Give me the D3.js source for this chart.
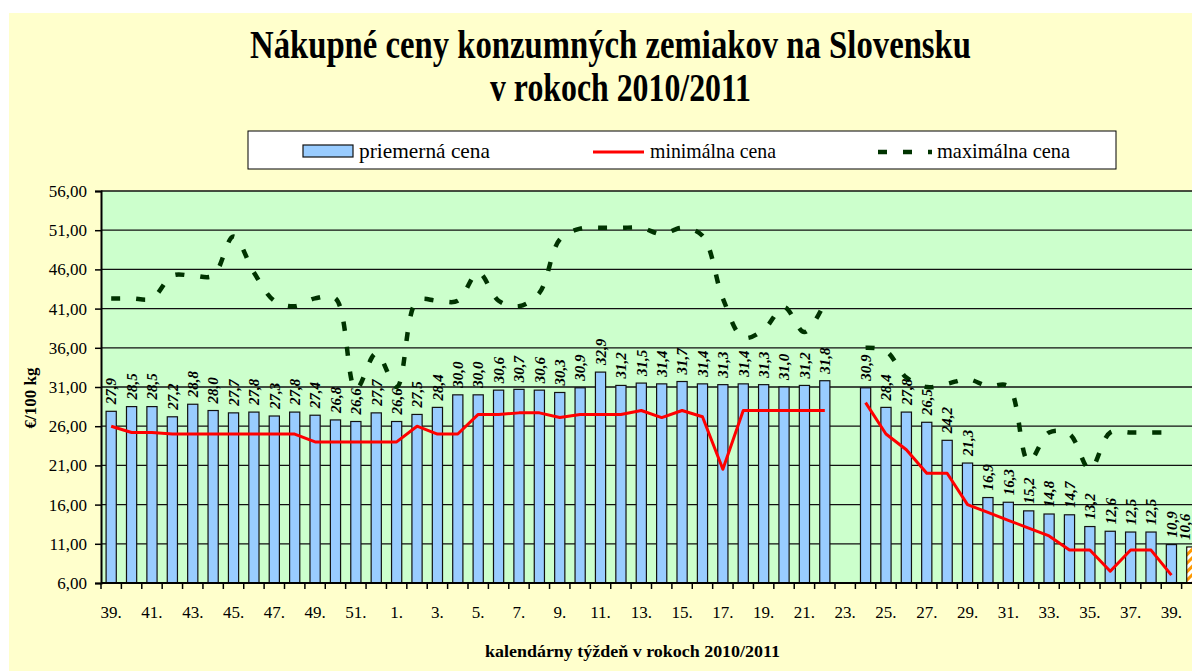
<!DOCTYPE html>
<html>
<head>
<meta charset="utf-8">
<script src="https://cdn.jsdelivr.net/npm/d3@7"></script>
<style>
  body { margin: 0; background: #fff; }
  svg { display: block; font-family: "Liberation Serif", "Times New Roman", serif; }
</style>
</head>
<body>
<div id="chart"></div>
<script>
// calendar weeks: 2010 (39-52), then 2011 (1-40)
var weeks = [39, 40, 41, 42, 43, 44, 45, 46, 47, 48, 49, 50, 51, 52,
  1, 2, 3, 4, 5, 6, 7, 8, 9, 10, 11, 12, 13, 14, 15, 16, 17, 18, 19, 20, 21, 22, 23,
  24, 25, 26, 27, 28, 29, 30, 31, 32, 33, 34, 35, 36, 37, 38, 39, 40];

// priemerna cena (bars)
var avgPrice = [27.9, 28.5, 28.5, 27.2, 28.8, 28.0, 27.7, 27.8, 27.3, 27.8, 27.4, 26.8, 26.6, 27.7,
  26.6, 27.5, 28.4, 30.0, 30.0, 30.6, 30.7, 30.6, 30.3, 30.9, 32.9, 31.2, 31.5, 31.4, 31.7, 31.4,
  31.3, 31.4, 31.3, 31.0, 31.2, 31.8, null,
  30.9, 28.4, 27.8, 26.5, 24.2, 21.3, 16.9, 16.3, 15.2, 14.8, 14.7, 13.2, 12.6, 12.5, 12.5, 10.9, 10.6];

// minimalna cena (red line)
var minPrice = [26.0, 25.2, 25.2, 25.0, 25.0, 25.0, 25.0, 25.0, 25.0, 25.0, 24.0, 24.0, 24.0, 24.0,
  24.0, 26.0, 25.0, 25.0, 27.5, 27.5, 27.7, 27.7, 27.1, 27.5, 27.5, 27.5, 28.0, 27.1, 28.0, 27.2,
  20.5, 28.0, 28.0, 28.0, 28.0, 28.0, null,
  29.0, 25.0, 23.0, 20.0, 20.0, 16.0, 15.0, 14.0, 13.0, 12.0, 10.2, 10.2, 7.5, 10.2, 10.2, 7.0, null];

// maximalna cena (dashed green line)
var maxPrice = [42.3, 42.3, 42.3, 45.2, 45.2, 45.2, 50.2, 45.6, 42.0, 41.3, 42.3, 42.3, 30.7, 35.3,
  31.0, 42.0, 42.0, 42.0, 45.6, 42.0, 41.3, 43.0, 49.8, 51.2, 51.3, 51.3, 51.3, 50.5, 51.3, 50.3,
  42.3, 37.3, 38.3, 41.2, 38.0, 41.8, null,
  36.0, 35.6, 32.2, 31.0, 31.4, 32.0, 31.1, 31.1, 21.5, 25.2, 25.0, 20.5, 25.2, 25.2, 25.2, 25.2, null];

var yTicks = [6, 11, 16, 21, 26, 31, 36, 41, 46, 51, 56];

var seriesNames = ["priemerná cena", "minimálna cena", "maximálna cena"];

//SVG dimensions
var svgWidth = 1192;
var svgHeight = 671;

// plot area (runs a bit past the right edge, like the original)
var plot = { left: 101, top: 191, right: 1202, bottom: 583 };

var svg = d3.select("#chart")
  .append("svg")
  .attr("width", svgWidth)
  .attr("height", svgHeight);

// hatch pattern for the last (orange) bar
var defs = svg.append("defs");
var hatch = defs.append("pattern")
  .attr("id", "hatch")
  .attr("patternUnits", "userSpaceOnUse")
  .attr("width", 6)
  .attr("height", 6)
  .attr("patternTransform", "rotate(45)");
hatch.append("rect").attr("width", 6).attr("height", 6).attr("fill", "#fff");
hatch.append("rect").attr("width", 3).attr("height", 6).attr("fill", "#FF9900");

// chart background
svg.append("rect")
  .attr("x", 9)
  .attr("y", 13)
  .attr("width", svgWidth)
  .attr("height", svgHeight)
  .attr("fill", "#FFFFCC");

// title
var title = svg.append("g")
  .attr("font-weight", "bold")
  .attr("font-size", "39px")
  .attr("fill", "#000");
title.append("text")
  .attr("x", 250)
  .attr("y", 58)
  .attr("textLength", 721)
  .attr("lengthAdjust", "spacingAndGlyphs")
  .text("Nákupné ceny konzumných zemiakov na Slovensku");
title.append("text")
  .attr("x", 490)
  .attr("y", 101)
  .attr("textLength", 261)
  .attr("lengthAdjust", "spacingAndGlyphs")
  .text("v rokoch 2010/2011");

// scales
var xScale = d3.scaleBand()
  .domain(d3.range(weeks.length))
  .range([plot.left, plot.right])
  .paddingInner(0.5)
  .paddingOuter(0.25);

var yScale = d3.scaleLinear()
  .domain([6, 56])
  .range([plot.bottom, plot.top]);

var cx = i => xScale(i) + xScale.bandwidth() / 2;

// plot area
svg.append("rect")
  .attr("x", plot.left)
  .attr("y", plot.top)
  .attr("width", plot.right - plot.left)
  .attr("height", plot.bottom - plot.top)
  .attr("fill", "#CCFFCC");

// horizontal gridlines
svg.append("g")
  .selectAll("line")
  .data(yTicks.filter(t => t > 6))
  .enter()
  .append("line")
  .attr("x1", plot.left)
  .attr("x2", plot.right)
  .attr("y1", d => yScale(d))
  .attr("y2", d => yScale(d))
  .attr("stroke", "#111")
  .attr("stroke-width", 1.3);

// y axis
var fmt = d => d3.format(".2f")(d).replace(".", ",");
var yAxis = svg.append("g")
  .attr("transform", `translate(${plot.left}, 0)`)
  .call(d3.axisLeft(yScale).tickValues(yTicks).tickFormat(fmt).tickSize(6).tickPadding(8));
yAxis.select(".domain").attr("stroke", "#000").attr("stroke-width", 2);
yAxis.selectAll(".tick line").attr("stroke", "#000").attr("stroke-width", 1.5);
yAxis.selectAll("text")
  .attr("font-family", "Liberation Serif, serif")
  .attr("font-size", "17px")
  .attr("fill", "#000");

// bars
svg.append("g")
  .selectAll("rect")
  .data(avgPrice.map((v, i) => ({ v: v, i: i })).filter(d => d.v != null))
  .enter()
  .append("rect")
  .attr("x", d => xScale(d.i))
  .attr("y", d => yScale(d.v))
  .attr("width", xScale.bandwidth())
  .attr("height", d => plot.bottom - yScale(d.v))
  .attr("fill", d => d.i === weeks.length - 1 ? "url(#hatch)" : "#99CCFF")
  .attr("stroke", "#111")
  .attr("stroke-width", 1.2);

// minimalna cena line
var minLine = d3.line()
  .defined(d => d != null)
  .x((d, i) => cx(i))
  .y(d => yScale(d));

svg.append("path")
  .datum(minPrice)
  .attr("d", minLine)
  .attr("fill", "none")
  .attr("stroke", "#FF0000")
  .attr("stroke-width", 3)
  .attr("stroke-linejoin", "round");

// maximalna cena line (smoothed, dashed)
var maxLine = d3.line()
  .defined(d => d != null)
  .x((d, i) => cx(i))
  .y(d => yScale(d))
  .curve(d3.curveCatmullRom.alpha(0.5));

svg.append("path")
  .datum(maxPrice)
  .attr("d", maxLine)
  .attr("fill", "none")
  .attr("stroke", "#003300")
  .attr("stroke-width", 4.5)
  .attr("stroke-dasharray", "9,16");

// x axis line and tick marks at category boundaries
svg.append("line")
  .attr("x1", plot.left)
  .attr("x2", plot.right)
  .attr("y1", plot.bottom)
  .attr("y2", plot.bottom)
  .attr("stroke", "#000")
  .attr("stroke-width", 2);

svg.append("g")
  .selectAll("line")
  .data(d3.range(weeks.length + 1))
  .enter()
  .append("line")
  .attr("x1", i => plot.left + i * xScale.step())
  .attr("x2", i => plot.left + i * xScale.step())
  .attr("y1", plot.bottom)
  .attr("y2", plot.bottom + 6)
  .attr("stroke", "#000")
  .attr("stroke-width", 1.5);

// x labels, every second week
svg.append("g")
  .selectAll("text")
  .data(d3.range(0, weeks.length, 2))
  .enter()
  .append("text")
  .attr("x", i => cx(i))
  .attr("y", 618)
  .attr("text-anchor", "middle")
  .attr("font-size", "17px")
  .attr("fill", "#000")
  .text(i => weeks[i] + ".");

// data labels above bars (last one nudged left so it stays inside the page)
svg.append("g")
  .selectAll("text")
  .data(avgPrice.map((v, i) => ({ v: v, i: i })).filter(d => d.v != null))
  .enter()
  .append("text")
  .attr("transform", d => {
    var lx = d.i === weeks.length - 1 ? cx(d.i) - 7 : cx(d.i);
    return `translate(${lx}, ${yScale(d.v) - 7}) rotate(-90)`;
  })
  .attr("dy", "0.35em")
  .attr("font-size", "15px")
  .attr("font-weight", "bold")
  .attr("font-style", "italic")
  .attr("fill", "#000")
  .text(d => d3.format(".1f")(d.v).replace(".", ","));

// axis titles
svg.append("text")
  .attr("transform", "translate(36, 398) rotate(-90)")
  .attr("text-anchor", "middle")
  .attr("font-size", "17px")
  .attr("font-weight", "bold")
  .text("€/100 kg");

svg.append("text")
  .attr("x", 485)
  .attr("y", 657)
  .attr("textLength", 295)
  .attr("lengthAdjust", "spacingAndGlyphs")
  .attr("font-size", "17px")
  .attr("font-weight", "bold")
  .text("kalendárny týždeň v rokoch 2010/2011");

// legend
var legend = svg.append("g");
legend.append("rect")
  .attr("x", 248)
  .attr("y", 131)
  .attr("width", 868)
  .attr("height", 38)
  .attr("fill", "#fff")
  .attr("stroke", "#000")
  .attr("stroke-width", 1);

legend.append("rect")
  .attr("x", 303)
  .attr("y", 145)
  .attr("width", 50)
  .attr("height", 12)
  .attr("fill", "#99CCFF")
  .attr("stroke", "#111")
  .attr("stroke-width", 1.2);

legend.append("line")
  .attr("x1", 593).attr("x2", 644)
  .attr("y1", 152).attr("y2", 152)
  .attr("stroke", "#FF0000")
  .attr("stroke-width", 3);

legend.append("line")
  .attr("x1", 878).attr("x2", 932)
  .attr("y1", 152).attr("y2", 152)
  .attr("stroke", "#003300")
  .attr("stroke-width", 4.5)
  .attr("stroke-dasharray", "9,16");

var legendText = [
  { x: 359, w: 131 },
  { x: 650, w: 126 },
  { x: 937, w: 133 }
];
legend.selectAll("text.leg")
  .data(seriesNames)
  .enter()
  .append("text")
  .attr("x", (d, i) => legendText[i].x)
  .attr("y", 158)
  .attr("textLength", (d, i) => legendText[i].w)
  .attr("lengthAdjust", "spacingAndGlyphs")
  .attr("font-size", "21px")
  .attr("fill", "#000")
  .text(d => d);
</script>
</body>
</html>
